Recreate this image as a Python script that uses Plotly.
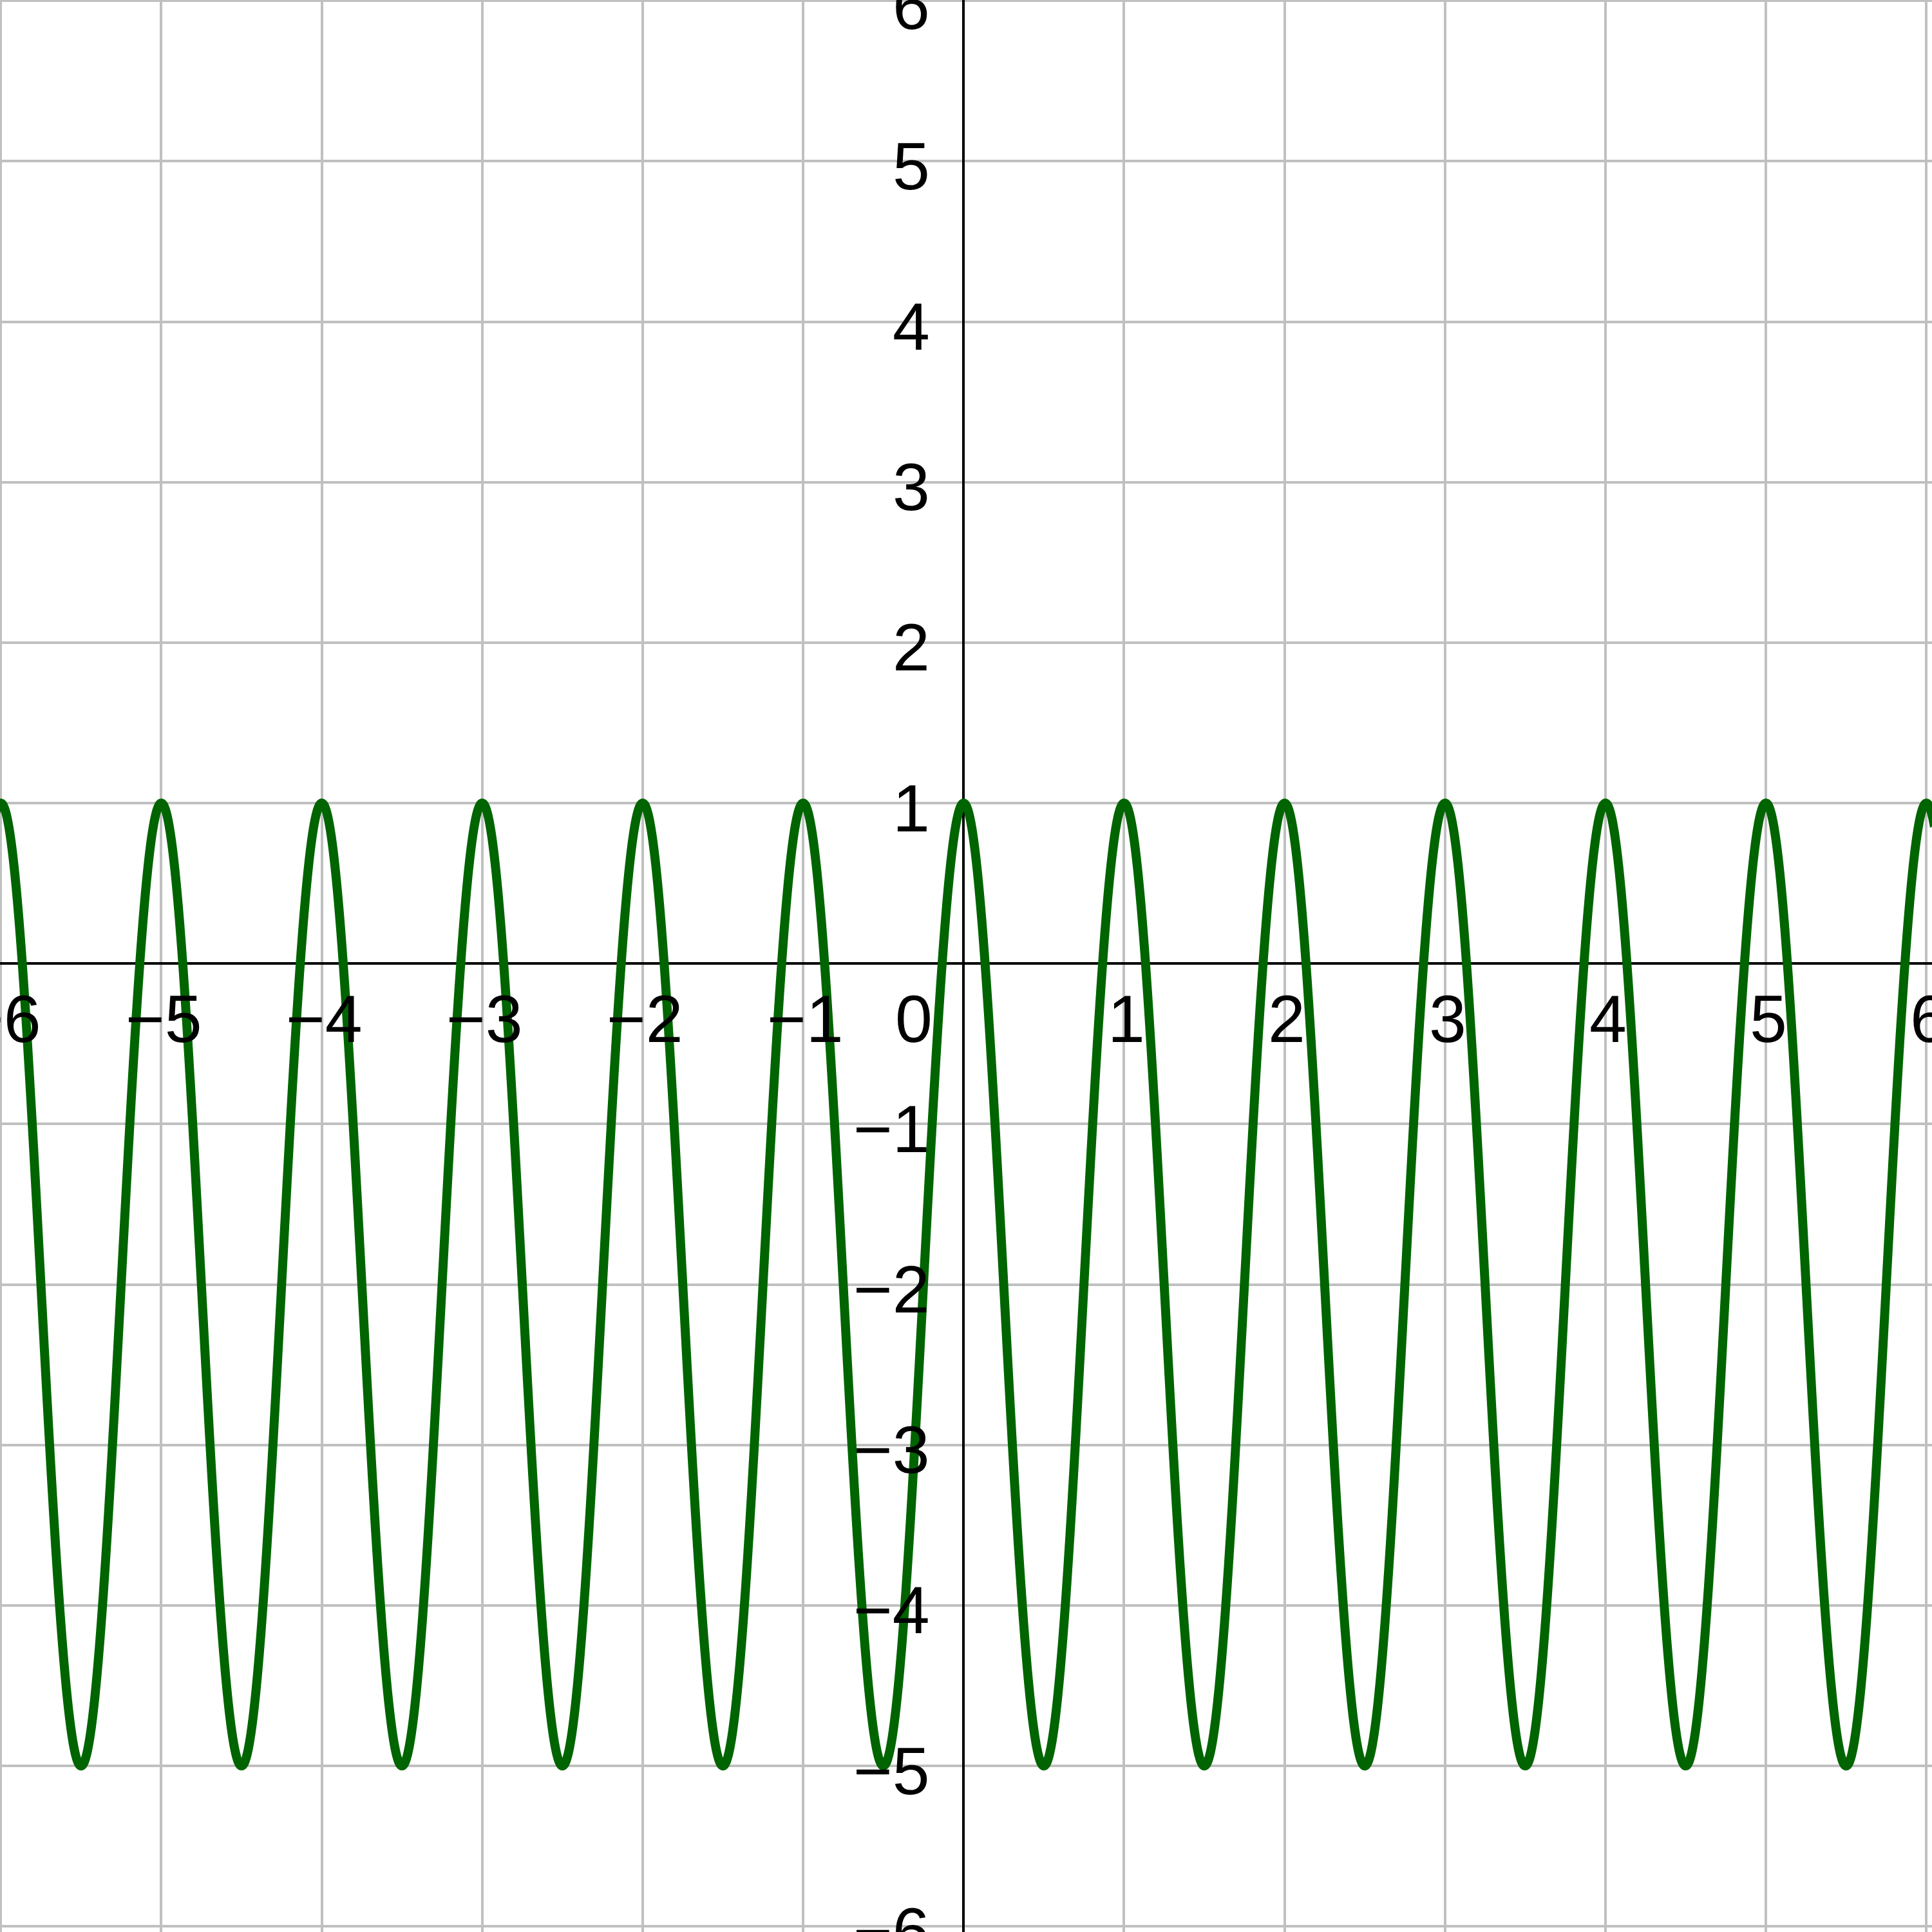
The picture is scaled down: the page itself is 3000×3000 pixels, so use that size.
import numpy as np
import plotly.graph_objects as go

# Curve parameters: peaks at y=1 at integer x, troughs at y=-5
offset = -2.0
amplitude = 3.0
period = 1.0
phase = 0.0

x_range = [-6.005, 6.035]
y_range = [-6.035, 6.005]

x_ticks = [-6, -5, -4, -3, -2, -1, 1, 2, 3, 4, 5, 6]
y_ticks = [-6, -5, -4, -3, -2, -1, 1, 2, 3, 4, 5, 6]

def fmt(v):
    return ("\u2212" + str(abs(v))) if v < 0 else str(v)

xs = np.linspace(-6.05, 6.05, 6001)
ys = offset + amplitude * np.cos(2 * np.pi * (xs - phase) / period)

fig = go.Figure()
fig.add_trace(go.Scatter(x=xs, y=ys, mode="lines",
                         line=dict(color="#006400", width=14, simplify=False),
                         hoverinfo="skip", showlegend=False))

font = dict(family="Liberation Sans, Arial, sans-serif", size=104, color="black")
ann = []
for v in x_ticks:
    ann.append(dict(x=v + 0.015, y=-0.345, xref="x", yref="y", text=fmt(v),
                    showarrow=False, xanchor="center", yanchor="middle", font=font))
ann.append(dict(x=-0.31, y=-0.345, xref="x", yref="y", text="0",
                showarrow=False, xanchor="center", yanchor="middle", font=font))
for v in y_ticks:
    ann.append(dict(x=-0.2, y=v - 0.03, xref="x", yref="y", text=fmt(v),
                    showarrow=False, xanchor="right", yanchor="middle", font=font))

axis_common = dict(showgrid=True, gridcolor="#c0c0c0", gridwidth=4, dtick=1,
                   zeroline=True, zerolinecolor="black", zerolinewidth=4,
                   showticklabels=False, ticks="", showline=False, fixedrange=True)

fig.update_layout(
    width=3000, height=3000,
    margin=dict(l=0, r=0, t=0, b=0),
    paper_bgcolor="white", plot_bgcolor="white",
    xaxis=dict(range=x_range, tick0=0, **axis_common),
    yaxis=dict(range=y_range, tick0=0, **axis_common),
    annotations=ann,
    showlegend=False,
)

fig.write_html("out.html", config={"displayModeBar": False},
               post_script="document.body.style.margin='0';")
